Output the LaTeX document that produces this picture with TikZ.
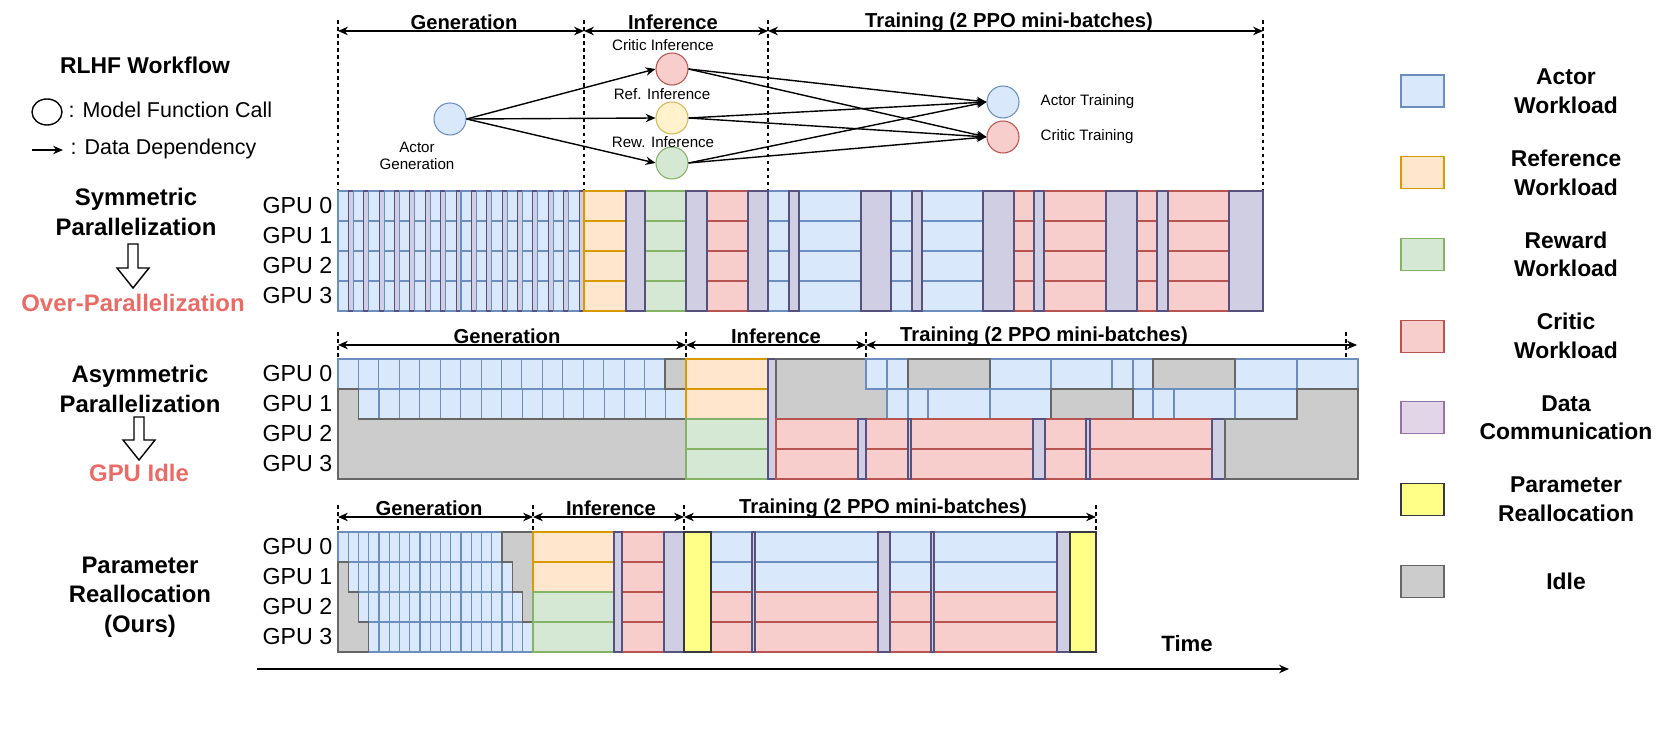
\documentclass[tikz,border=0pt]{standalone}
\usepackage{fontspec}
\setmainfont{Liberation Sans}
\usetikzlibrary{arrows.meta,shapes.geometric}

\definecolor{actfill}{HTML}{DAE8FC}
\definecolor{actline}{HTML}{6C8EBF}
\definecolor{reffill}{HTML}{FFE6CC}
\definecolor{refline}{HTML}{D79B00}
\definecolor{refcfill}{HTML}{FFF2CC}
\definecolor{refcline}{HTML}{D6B656}
\definecolor{rewfill}{HTML}{D5E8D4}
\definecolor{rewline}{HTML}{82B366}
\definecolor{critfill}{HTML}{F8CECC}
\definecolor{critline}{HTML}{B85450}
\definecolor{commfill}{HTML}{D0CEE2}
\definecolor{commline}{HTML}{56517E}
\definecolor{legcommfill}{HTML}{E1D5E7}
\definecolor{legcommline}{HTML}{9673A6}
\definecolor{reallocfill}{HTML}{FFFF88}
\definecolor{reallocline}{HTML}{36393D}
\definecolor{idlefill}{HTML}{CCCCCC}
\definecolor{idleline}{HTML}{666666}
\definecolor{warnred}{HTML}{EA6B66}

\tikzset{
  act/.style={fill=actfill,draw=actline,line width=0.3pt},
  refw/.style={fill=reffill,draw=refline,line width=0.3pt},
  rew/.style={fill=rewfill,draw=rewline,line width=0.3pt},
  crit/.style={fill=critfill,draw=critline,line width=0.3pt},
  comm/.style={fill=commfill,draw=commline,line width=0.3pt},
  legcomm/.style={fill=legcommfill,draw=legcommline,line width=0.3pt},
  realloc/.style={fill=reallocfill,draw=reallocline,line width=0.3pt},
  idle/.style={fill=idlefill,draw=idleline,line width=0.3pt},
  call/.style={circle,minimum size=3.2mm,inner sep=0pt,line width=0.3pt},
  tip/.tip={Stealth[length=2.8pt,width=2.4pt]},
  dep/.style={-tip,line width=0.4pt},
  phasearrow/.style={tip-tip,line width=0.4pt},
  phaseline/.style={dash pattern=on 1pt off 1pt,line width=0.3pt},
  hdr/.style={inner sep=0pt,font=\fontsize{5.75}{7}\selectfont\bfseries},
  wlab/.style={inner sep=0pt,align=center,font=\fontsize{4.3}{4.9}\selectfont},
  gpulab/.style={inner sep=0pt,anchor=east,font=\fontsize{6.6}{8}\selectfont},
  sect/.style={inner sep=0pt,align=center,font=\fontsize{6.8}{8.4}\selectfont\bfseries},
  keylab/.style={inner sep=0pt,anchor=west,font=\fontsize{6.1}{7}\selectfont},
  leglab/.style={inner sep=0pt,align=center,font=\fontsize{6.5}{8.2}\selectfont\bfseries}
}

\begin{document}
\begin{tikzpicture}[x=0.01cm,y=-0.01cm]

  \path[use as bounding box] (0,0) rectangle (1661,737);

  % left side labels
  \node[sect,font=\fontsize{6.5}{8}\selectfont\bfseries] (rlhf) at (145,65) {RLHF Workflow};
  \node[draw,ellipse,minimum width=0.3cm,minimum height=0.26cm,inner sep=0pt,line width=0.4pt] (keycall) at (47,112) {};
  \node[keylab] (keycalltxt) at (68,110) {: Model Function Call};
  \coordinate (keya) at (32,150);
  \coordinate (keyb) at (63,150);
  \draw[dep] (keya) -- (keyb);
  \node[keylab] (keydeptxt) at (70,149) {: Data Dependency};

  \node[sect] (symlab) at (136,212) {Symmetric\\Parallelization};
  \draw[line width=0.4pt] (128,244) -- (138,244) -- (138,268) -- (149,268) -- (133,288) -- (117,268) -- (128,268) -- cycle;
  \node[sect,text=warnred] (overlab) at (133,303) {Over-Parallelization};

  \node[sect] (asymlab) at (140,389) {Asymmetric\\Parallelization};
  \draw[line width=0.4pt] (134,417) -- (144,417) -- (144,440) -- (155,440) -- (139,460) -- (123,440) -- (134,440) -- cycle;
  \node[sect,text=warnred] (idlelab) at (139,473) {GPU Idle};

  \node[sect] (ourlab) at (140,597) {Parameter\\Reallocation\\(Ours)};

  \foreach \r in {0,...,3} {
    \node[gpulab] (sg\r) at (333,{206+30*\r}) {GPU \r};
    \node[gpulab] (ag\r) at (333,{374+30*\r}) {GPU \r};
    \node[gpulab] (pg\r) at (333,{547+30*\r}) {GPU \r};
  }

  % workflow graph
  \node[call,fill=actfill,draw=actline] (agen) at (450,119) {};
  \node[call,fill=critfill,draw=critline] (cinf) at (672,69) {};
  \node[call,fill=refcfill,draw=refcline] (rinf) at (672,118) {};
  \node[call,fill=rewfill,draw=rewline] (winf) at (672,163) {};
  \node[call,fill=actfill,draw=actline] (atrn) at (1003,102) {};
  \node[call,fill=critfill,draw=critline] (ctrn) at (1003,137) {};

  \node[wlab] (agenlab) at (417,156) {Actor\\Generation};
  \node[wlab] (cinflab) at (663,45) {Critic Inference};
  \node[wlab] (rinflab) at (662,94) {Ref. Inference};
  \node[wlab] (winflab) at (663,142) {Rew. Inference};
  \node[wlab,anchor=west] (atrnlab) at (1040,102) {Actor Training};
  \node[wlab,anchor=west] (ctrnlab) at (1040,137) {Critic Training};

  \foreach \n in {cinf,rinf,winf} {
    \draw[dep] (agen.east) -- (\n.west);
    \draw[dep] (\n.east) -- (atrn.west);
    \draw[dep] (\n.east) -- (ctrn.west);
  }

  % phase markers
  \foreach \x in {338,584,768,1263}
    \draw[phaseline] (\x,20) -- (\x,191);
  \foreach \x in {338,686,866,1346}
    \draw[phaseline] (\x,332) -- (\x,359);
  \foreach \x in {338,533,684,1096}
    \draw[phaseline] (\x,505) -- (\x,532);

  \coordinate (t0) at (338,31);
  \coordinate (t1) at (584,31);
  \coordinate (t2) at (768,31);
  \coordinate (t3) at (1263,31);
  \draw[phasearrow] (t0) -- (t1);
  \draw[phasearrow] (t1) -- (t2);
  \draw[phasearrow] (t2) -- (t3);
  \node[hdr] (tgen) at (464,22) {Generation};
  \node[hdr] (tinf) at (673,22) {Inference};
  \node[hdr] (ttrn) at (1009,22) {Training (2 PPO mini-batches)};

  \coordinate (a0) at (338,345);
  \coordinate (a1) at (686,345);
  \coordinate (a2) at (866,345);
  \coordinate (a3) at (1357,345);
  \draw[phasearrow] (a0) -- (a1);
  \draw[phasearrow] (a1) -- (a2);
  \draw[phasearrow] (a2) -- (a3);
  \node[hdr] (agen2) at (507,336) {Generation};
  \node[hdr] (ainf) at (776,336) {Inference};
  \node[hdr] (atrn2) at (1044,336) {Training (2 PPO mini-batches)};

  \coordinate (p0) at (338,517);
  \coordinate (p1) at (533,517);
  \coordinate (p2) at (684,517);
  \coordinate (p3) at (1096,517);
  \draw[phasearrow] (p0) -- (p1);
  \draw[phasearrow] (p1) -- (p2);
  \draw[phasearrow] (p2) -- (p3);
  \node[hdr] (pgen) at (429,508) {Generation};
  \node[hdr] (pinf) at (611,508) {Inference};
  \node[hdr] (ptrn) at (883,508) {Training (2 PPO mini-batches)};

  % symmetric parallelization
  \foreach \i in {0,...,15} {
    \foreach \r in {0,...,3}
      \draw[act] ({338+15.375*\i},{191+30*\r}) rectangle ({348.4+15.375*\i},{221+30*\r});
    \draw[comm] ({348.4+15.375*\i},191) rectangle ({353.375+15.375*\i},311);
  }
  \foreach \a/\b/\s in {584/626/refw, 645/686/rew, 707/748/crit, 768/789/act, 799/861/act,
      891/912/act, 922/983/act, 1014/1034/crit, 1044/1106/crit, 1137/1157/crit, 1168/1229/crit}
    \foreach \r in {0,...,3}
      \draw[\s] (\a,{191+30*\r}) rectangle (\b,{221+30*\r});
  \foreach \a/\b in {626/645, 686/707, 748/768, 789/799, 861/891, 912/922, 983/1014,
      1034/1044, 1106/1137, 1157/1168, 1229/1263}
    \draw[comm] (\a,191) rectangle (\b,311);

  % asymmetric parallelization
  \foreach \i in {0,...,15} {
    \draw[act] ({338+20.44*\i},359) rectangle ({358.44+20.44*\i},389);
    \draw[act] ({358.5+20.47*\i},389) rectangle ({378.97+20.47*\i},419);
  }
  \draw[idle] (665,359) rectangle (686,389);
  \draw[idle] (338,389) -- (358.5,389) -- (358.5,419) -- (686,419) -- (686,479) -- (338,479) -- cycle;
  \foreach \r in {0,1}
    \draw[refw] (686,{359+30*\r}) rectangle (768,{389+30*\r});
  \foreach \r in {2,3}
    \draw[rew] (686,{359+30*\r}) rectangle (768,{389+30*\r});
  \draw[comm] (768,359) rectangle (776,479);
  \draw[idle] (776,359) -- (866,359) -- (866,389) -- (887,389) -- (887,419) -- (776,419) -- cycle;
  \foreach \a/\b in {866/887, 887/908, 990/1051, 1051/1112, 1112/1133, 1133/1153, 1235/1297, 1297/1358}
    \draw[act] (\a,359) rectangle (\b,389);
  \foreach \a/\b in {908/990, 1153/1235}
    \draw[idle] (\a,359) rectangle (\b,389);
  \foreach \a/\b in {887/908, 908/928, 928/990, 990/1051, 1133/1153, 1153/1174, 1174/1235, 1235/1297}
    \draw[act] (\a,389) rectangle (\b,419);
  \draw[idle] (1051,389) rectangle (1133,419);
  \foreach \a/\b in {776/858, 866/908, 911/1033, 1045/1086, 1090/1212}
    \foreach \r in {2,3}
      \draw[crit] (\a,{359+30*\r}) rectangle (\b,{389+30*\r});
  \foreach \a/\b in {858/866, 908/911, 1033/1045, 1086/1090, 1212/1225}
    \draw[comm] (\a,419) rectangle (\b,479);
  \draw[idle] (1297,389) -- (1358,389) -- (1358,479) -- (1225,479) -- (1225,419) -- (1297,419) -- cycle;

  % parameter reallocation
  \foreach \r in {0,...,3}
    \foreach \i in {0,...,15}
      \draw[act] ({338+10.25*(\i+\r)},{532+30*\r}) rectangle ({348.25+10.25*(\i+\r)},{562+30*\r});
  \draw[idle] (338,562) -- (348.25,562) -- (348.25,592) -- (358.5,592) -- (358.5,622)
    -- (368.75,622) -- (368.75,652) -- (338,652) -- cycle;
  \draw[idle] (502,532) -- (533,532) -- (533,622) -- (522.5,622) -- (522.5,592)
    -- (512.25,592) -- (512.25,562) -- (502,562) -- cycle;
  \foreach \r in {0,1}
    \draw[refw] (533,{532+30*\r}) rectangle (614,{562+30*\r});
  \foreach \r in {2,3}
    \draw[rew] (533,{532+30*\r}) rectangle (614,{562+30*\r});
  \foreach \r in {0,...,3}
    \draw[crit] (622,{532+30*\r}) rectangle (664,{562+30*\r});
  \foreach \a/\b in {711/752, 755/878, 890/931, 934/1057} {
    \foreach \r in {0,1}
      \draw[act] (\a,{532+30*\r}) rectangle (\b,{562+30*\r});
    \foreach \r in {2,3}
      \draw[crit] (\a,{532+30*\r}) rectangle (\b,{562+30*\r});
  }
  \foreach \a/\b in {614/622, 664/684, 752/755, 878/890, 931/934, 1057/1070}
    \draw[comm] (\a,532) rectangle (\b,652);
  \draw[realloc] (684,532) rectangle (711,652);
  \draw[realloc] (1070,532) rectangle (1096,652);

  % time axis
  \coordinate (time0) at (257,669);
  \coordinate (time1) at (1289,669);
  \draw[dep,line width=0.5pt] (time0) -- (time1);
  \node[sect,font=\fontsize{6.3}{7}\selectfont\bfseries] (timelab) at (1187,644) {Time};

  % legend
  \foreach \s/\t [count=\i from 0] in {act/{Actor\\Workload}, refw/{Reference\\Workload},
      rew/{Reward\\Workload}, crit/{Critic\\Workload}, legcomm/{Data\\Communication},
      realloc/{Parameter\\Reallocation}, idle/{Idle}} {
    \draw[\s] (1401,{75+81.7*\i}) rectangle (1444,{107+81.7*\i});
    \node[leglab] (leg\i) at (1566,{91+81.7*\i}) {\t};
  }

\end{tikzpicture}
\end{document}
